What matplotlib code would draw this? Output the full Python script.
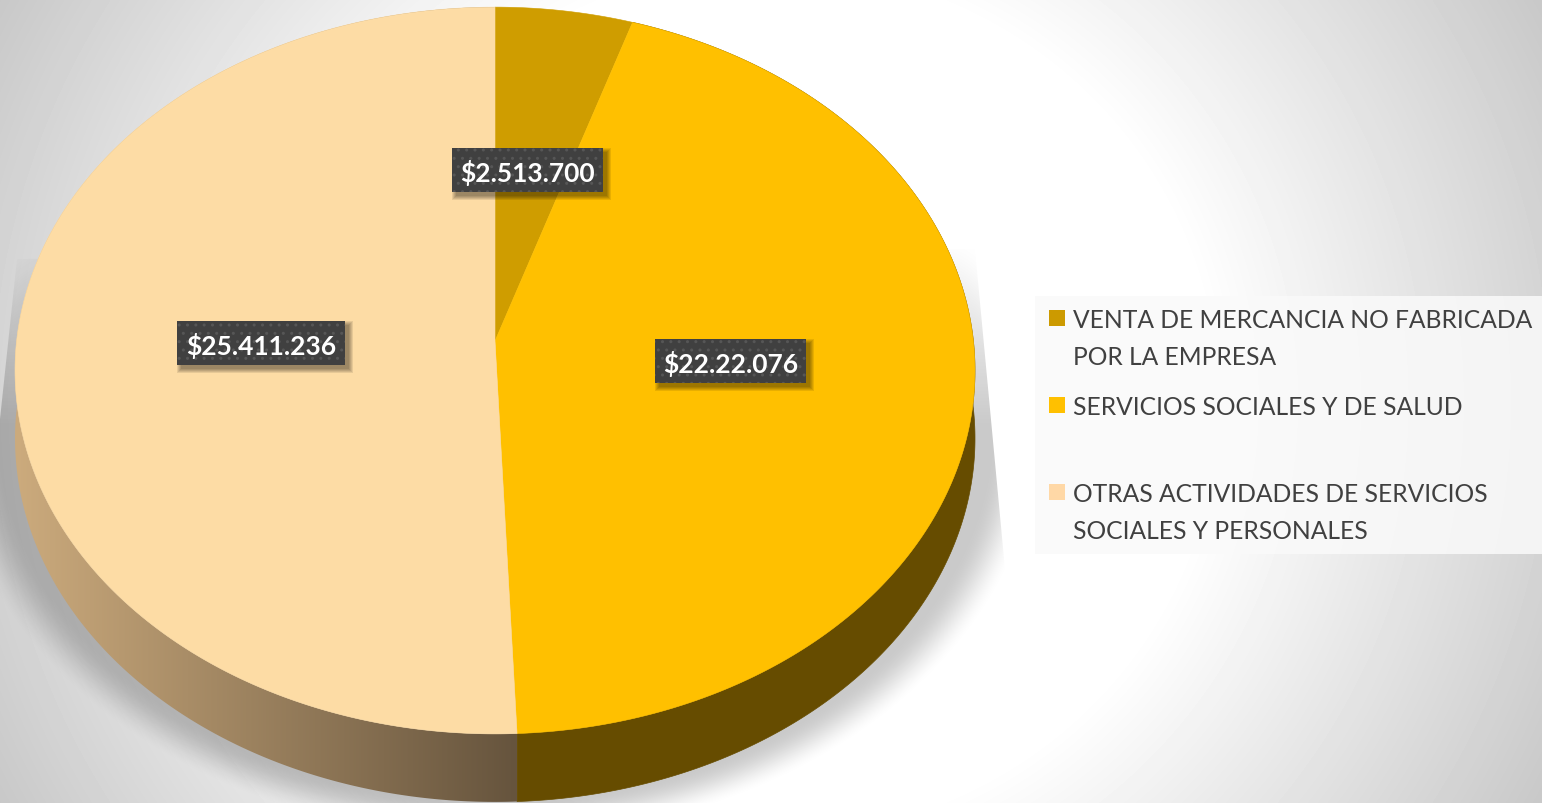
import numpy as np
import matplotlib
matplotlib.use('Agg')
import matplotlib.pyplot as plt
from matplotlib.patches import Rectangle, Polygon

plt.rcParams['font.family'] = ['Lato', 'DejaVu Sans']
plt.rcParams['hatch.linewidth'] = 1.0

# data
categorias = ['VENTA DE MERCANCIA NO FABRICADA\nPOR LA EMPRESA',
              'SERVICIOS SOCIALES Y DE SALUD',
              'OTRAS ACTIVIDADES DE SERVICIOS\nSOCIALES Y PERSONALES']
valores = [2513700, 22220760, 25411236]
etiquetas = ['$2.513.700', '$22.22.076', '$25.411.236']

colores = ['#cf9d00', '#ffc000', '#fddca5']
colores_leyenda = ['#cc9a00', '#ffc000', '#ffd8a6']
lado_derecho = '#664c00'

W, H = 1542, 804
DEPTH = 68


def perspectiva(x, y):
    # tilted pie: circle -> ellipse, the apex does not sit in the middle
    k = 0.0812
    d = 1 + k * y
    return np.column_stack([495 + 478.4 * x / d, 342 - 361 * y / d])


fig = plt.figure(figsize=(W / 100, H / 100), dpi=100)
ax = fig.add_axes([0, 0, 1, 1])
wedges, _ = ax.pie(valores, colors=colores, startangle=90, counterclock=False)
ax.set_aspect('auto')
ax.axis('off')

# background
yy, xx = np.mgrid[0:H, 0:W]
e = np.hypot((xx - 771) / 440, (yy - 402) / 428)
gris = 1 - 0.218 * np.clip(e - 1, 0, None)
ax.imshow(gris, cmap='gray', vmin=0, vmax=1, extent=(0, W, H, 0), aspect='auto', zorder=0)

# shadow under the pie, cut by straight edges on both sides, fading out upwards
d = (np.hypot((xx - 495) / 490, (yy - 425) / 372) - 1) * 420
t = np.clip((50 - d) / 45, 0, 1)
rampa = np.clip((yy - 235) / 190, 0, 1)
sombra = np.zeros((H, W, 4))
sombra[..., 3] = 0.21 * t * t * (3 - 2 * t) * rampa
im = ax.imshow(sombra, extent=(0, W, H, 0), aspect='auto', zorder=1)
im.set_clip_path(Polygon([(17, 260), (975, 250), (1005, 570), (1005, H), (0, H), (0, 420)],
                         transform=ax.transData))

# pie faces and side walls
for i, w in enumerate(wedges):
    ang = np.radians(np.linspace(w.theta1, w.theta2, 400))
    w.remove()
    arco = perspectiva(np.cos(ang), np.sin(ang))
    lado = np.vstack([arco, (arco + [0, DEPTH])[::-1]])
    if i == 1:
        ax.add_patch(Polygon(lado, fc=lado_derecho, ec=lado_derecho, lw=0.5, zorder=2))
    elif i == 2:
        grad = np.linspace(0, 1, 256)[None, :]
        c0, c1 = np.array([0.80, 0.67, 0.49]), np.array([0.40, 0.33, 0.24])
        rgb = c0 + (c1 - c0) * grad[..., None]
        img = ax.imshow(rgb, extent=(15, 517, H, 0), aspect='auto', zorder=2)
        img.set_clip_path(Polygon(lado, transform=ax.transData))
    cara = np.vstack([arco, perspectiva(np.array([0.0]), np.array([0.0]))])
    ax.add_patch(Polygon(cara, fc=colores[i], ec=colores[i], lw=0.4, zorder=3))

# data labels
cajas = [(452, 149), (655, 340), (177, 322)]
anchos = [151, 151, 168]
for (x0, y0), ancho, txt in zip(cajas, anchos, etiquetas):
    for g in range(5):
        ax.add_patch(Rectangle((x0 + 4 - g, y0 + 4 - g), ancho + 2 * g, 44 + 2 * g,
                               fc='black', ec='none', alpha=0.09, zorder=4))
    ax.add_patch(Rectangle((x0, y0), ancho, 44, fc='#404040', ec='none', zorder=5))
    ax.add_patch(Rectangle((x0, y0), ancho, 44, fc='none', ec='#565656', lw=0,
                           hatch='..', zorder=5))
    ax.text(x0 + ancho / 2, y0 + 24, txt, color='white', fontsize=19, fontweight='bold',
            ha='center', va='center', zorder=6)

# legend
ax.add_patch(Rectangle((1035, 297), 507, 258, fc='#fafafa', ec='none', alpha=0.85, zorder=1))
filas = [311, 398, 485]
for y0, nombre, col in zip(filas, categorias, colores_leyenda):
    ax.add_patch(Rectangle((1049, y0), 16, 16, fc=col, ec='none', zorder=2))
    for n, linea in enumerate(nombre.split('\n')):
        ax.text(1073, y0 + 10 + n * 36.5, linea, color='#404040', fontsize=17.7,
                ha='left', va='center', zorder=2)

ax.set_xlim(0, W)
ax.set_ylim(H, 0)
fig.savefig('out.png', dpi=100)
